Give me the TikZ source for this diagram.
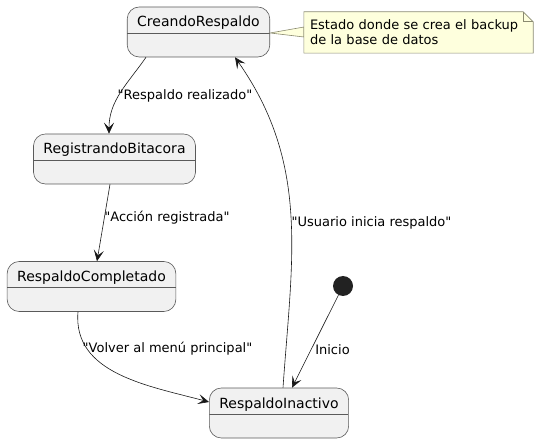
\documentclass[tikz,border=0pt]{standalone}
\usepackage{fontspec}
\setmainfont{DejaVu Sans}
\usepackage{xcolor}
\usepackage{tikz}
\usetikzlibrary{arrows.meta, positioning, calc}
\definecolor{statebg}{HTML}{F1F1F1}
\definecolor{boxline}{HTML}{5A5A5A}
\definecolor{lineclr}{HTML}{181818}
\definecolor{notebg}{HTML}{FEFFDD}
\definecolor{noteline}{HTML}{8A8A70}
\definecolor{initclr}{HTML}{222222}
\newcommand{\qq}{\XeTeXglyph\the\XeTeXcharglyph"22\relax}

\begin{document}
\begin{tikzpicture}[x=1pt, y=1pt,
    state/.style={rectangle, draw=boxline, fill=statebg, rounded corners=12pt, line width=0.6pt, font=\fontsize{14}{17}\selectfont, inner xsep=10pt, inner ysep=4pt, text height=16pt, text depth=26pt, minimum height=50pt,
      path picture={\draw[boxline, line width=0.6pt] ([yshift=-1pt]path picture bounding box.west) -- ([yshift=-1pt]path picture bounding box.east);}},
    initial/.style={circle, fill=initclr, minimum size=20pt, inner sep=0pt},
    arrow/.style={-{Stealth[length=11pt, width=10pt, inset=5pt]}, color=lineclr, line width=0.6pt},
    edgelabel/.style={font=\fontsize{13}{15}\selectfont, inner sep=0pt},
    notebox/.style={fill=notebg, draw=noteline, line width=0.6pt}
]
\useasboundingbox (0,0) rectangle (538,-443);

\node[state] (creando) at (198.5,-32) {CreandoRespaldo};
\node[state] (registrando) at (114.5,-159) {RegistrandoBitacora};
\node[state] (completado) at (91.5,-286.5) {RespaldoCompletado};
\node[state] (inactivo) at (279,-413) {RespaldoInactivo};
\node[initial] (inicio) at (343,-286) {};

% note
\filldraw[notebox] ([yshift=-1pt]creando.east) -- (304,-27) -- (304,-37) -- cycle;
\node[fill=notebg, align=left, text width=217pt, inner xsep=6pt, inner ysep=0pt, minimum height=41pt, font=\fontsize{13}{15}\selectfont] (note) at (418.5,-32.5) {Estado donde se crea el backup\\de la base de datos};
\fill[white] ([xshift=-10pt]note.north east) -- (note.north east) -- ([yshift=-10pt]note.north east) -- cycle;
\draw[notebox, fill=none] (note.north west) -- ([xshift=-10pt]note.north east) -- ([yshift=-10pt]note.north east) -- (note.south east) -- (note.south west) -- cycle;
\draw[notebox, fill=none] ([xshift=-10pt]note.north east) -- ([xshift=-10pt, yshift=-10pt]note.north east) -- ([yshift=-10pt]note.north east);

\draw[arrow] ([xshift=-52.5pt]creando.south) to[out=-125, in=90] ([xshift=-5.5pt]registrando.north);
\draw[arrow] ([xshift=-4.5pt]registrando.south) -- ([xshift=5.5pt]completado.north);
\draw[arrow] ([xshift=-13.5pt]completado.south) to[out=-95, in=165] ([yshift=11pt]inactivo.west);
\draw[arrow] ([xshift=4pt]inactivo.north) to[out=86, in=-55] ([xshift=36.5pt]creando.south);
\draw[arrow] (inicio) -- ([xshift=13pt]inactivo.north);

\node[edgelabel] (lblrealizado) at (185,-96) {\qq Respaldo realizado\qq};
\node[edgelabel] (lblregistrada) at (167,-218) {\qq Acción registrada\qq};
\node[edgelabel] (lblvolver) at (167.5,-349) {\qq Volver al menú principal\qq};
\node[edgelabel] (lblusuario) at (371.5,-223) {\qq Usuario inicia respaldo\qq};
\node[edgelabel] (lblinicio) at (332.5,-350) {Inicio};

\end{tikzpicture}
\end{document}
